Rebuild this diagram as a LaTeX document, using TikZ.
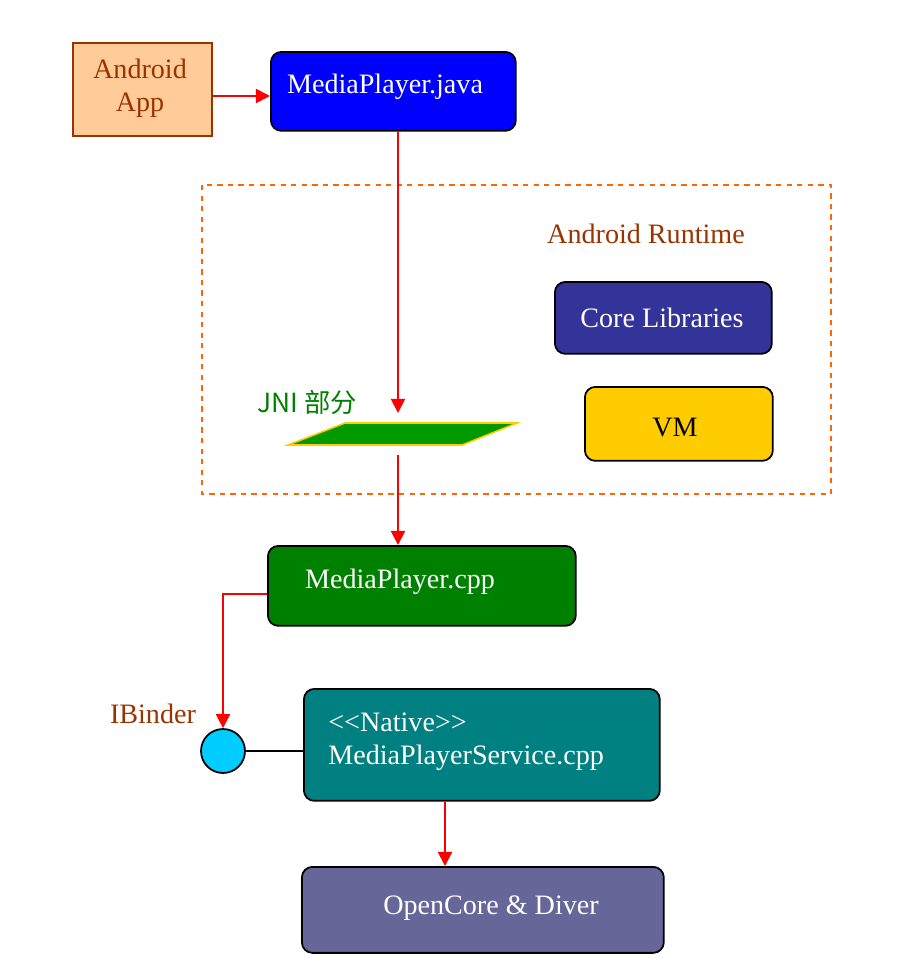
\documentclass[tikz,border=0pt]{standalone}
\usepackage{fontspec}
\setmainfont{Liberation Serif}
\newfontfamily\cjkfont{Noto Sans CJK SC}
\usetikzlibrary{arrows.meta}

\definecolor{appfill}{HTML}{FFCC99}
\definecolor{brownish}{HTML}{993300}
\definecolor{javablue}{HTML}{0000FF}
\definecolor{corefill}{HTML}{333399}
\definecolor{vmfill}{HTML}{FFCC00}
\definecolor{jnigreen}{HTML}{009900}
\definecolor{cppgreen}{HTML}{008000}
\definecolor{svcteal}{HTML}{008080}
\definecolor{ocfill}{HTML}{666699}
\definecolor{binderfill}{HTML}{00CCFF}
\definecolor{rtorange}{HTML}{FF6600}

\tikzset{
  blk/.style={draw=black, line width=1pt, rounded corners=6pt, anchor=north west},
  wtxt/.style={text=white, inner sep=0pt},
  redarr/.style={draw=red, line width=1.1pt, -{Triangle[length=8pt,width=8pt]}},
}

\begin{document}
\begin{tikzpicture}[x=0.02cm, y=-0.02cm, font=\fontsize{16}{19}\selectfont]
\useasboundingbox (0,0) rectangle (906,970);

% top row
\node[draw=brownish, fill=appfill, line width=1pt, anchor=north west,
      minimum width=2.78cm, minimum height=1.86cm] (app) at (72,42) {};
\node[text=brownish, align=center, inner sep=0pt] (apptxt) at (140,88) {Android\\App};
\node[blk, fill=javablue, minimum width=4.9cm, minimum height=1.58cm] (java) at (270,51) {};
\node[wtxt] (javatxt) at (385,87) {MediaPlayer.java};

% runtime frame
\draw[rtorange, dashed, line width=1pt] (202,185) rectangle (831,494);
\node[text=brownish, inner sep=0pt] (rt) at (646,234) {Android Runtime};
\node[blk, fill=corefill, minimum width=4.34cm, minimum height=1.44cm] (core) at (554,281) {};
\node[wtxt] (coretxt) at (662,318) {Core Libraries};
\node[blk, fill=vmfill, minimum width=3.76cm, minimum height=1.48cm] (vm) at (584,386) {};
\node[inner sep=0pt] (vmtxt) at (675,428) {VM};

% JNI
\node[text=cppgreen, inner sep=0pt, font=\cjkfont\fontsize{15}{18}\selectfont] (jnitxt) at (307,402) {JNI 部分};
\draw[draw=vmfill, fill=jnigreen, line width=0.9pt] (288,445) -- (345,423) -- (517,423) -- (462,445) -- cycle;
\coordinate (jnitop) at (398,413);
\coordinate (jnibot) at (398,455);

% native side
\node[blk, fill=cppgreen, minimum width=6.16cm, minimum height=1.6cm] (cpp) at (267,545) {};
\node[wtxt] (cpptxt) at (400,582) {MediaPlayer.cpp};
\node[draw=black, fill=binderfill, circle, line width=1pt, minimum size=0.88cm, inner sep=0pt] (binder) at (223,751) {};
\node[text=brownish, inner sep=0pt] (bindtxt) at (153,714) {IBinder};
\node[blk, fill=svcteal, minimum width=7.12cm, minimum height=2.24cm] (svc) at (303,688) {};
\node[wtxt, align=left, anchor=west] (svctxt) at (328,742) {<\kern0pt<Native>\kern0pt>\\MediaPlayerService.cpp};
\node[blk, fill=ocfill, minimum width=7.24cm, minimum height=1.72cm] (oc) at (301,866) {};
\node[wtxt] (octxt) at (491,908) {OpenCore \& Diver};

% connectors
\draw[redarr] (app.east |- 0,96) -- (java.west |- 0,96);
\draw[redarr] (java.south -| jnitop) -- (jnitop);
\draw[redarr] (jnibot) -- (cpp.north -| jnibot);
\draw[redarr] (cpp.west |- 0,594) -| (binder.north);
\draw[black, line width=1pt] (binder.east) -- (svc.west |- binder);
\draw[redarr] (svc.south -| 445,0) -- (oc.north -| 445,0);
\end{tikzpicture}
\end{document}
